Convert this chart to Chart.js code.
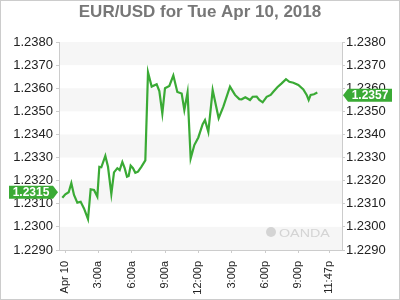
<!DOCTYPE html>
<html>
<head>
<meta charset="utf-8">
<script src="https://cdn.jsdelivr.net/npm/chart.js@4"></script>
<style>
  html, body { margin: 0; padding: 0; background: #fff; }
  canvas { display: block; }
</style>
</head>
<body>
<canvas id="myChart" width="400" height="300"></canvas>
<script>
// hours after midnight Apr 10 (negative = late Apr 9)
var times = [-0.24, 0.03, 0.33, 0.57, 0.81, 1.11, 1.41, 1.71, 2.07, 2.31,
    2.61, 2.91, 3.09, 3.27, 3.63, 3.87, 4.17, 4.41, 4.71, 4.92,
    5.16, 5.37, 5.58, 5.73, 5.91, 6.12, 6.33, 6.57, 6.87, 7.23,
    7.47, 7.80, 8.25, 8.49, 8.76, 9.00, 9.39, 9.75, 10.11, 10.50,
    10.74, 11.03, 11.31, 11.64, 12.00, 12.39, 12.60, 12.90, 13.29, 13.83,
    14.25, 14.85, 15.30, 15.69, 15.90, 16.23, 16.65, 16.89, 17.25, 17.49,
    17.79, 18.15, 18.51, 18.75, 19.11, 19.50, 19.89, 20.19, 20.55, 21.00,
    21.45, 21.75, 21.93, 22.11, 22.41, 22.71]
var rates = [1.23126, 1.23141, 1.23150, 1.23189, 1.23138, 1.23105, 1.23109, 1.23080, 1.23034, 1.23163,
    1.23160, 1.23131, 1.23260, 1.23258, 1.23307, 1.23260, 1.23142, 1.23236, 1.23254, 1.23246,
    1.23281, 1.23254, 1.23217, 1.23220, 1.23265, 1.23254, 1.23234, 1.23239, 1.23260, 1.23288,
    1.23669, 1.23607, 1.23617, 1.23588, 1.23491, 1.23600, 1.23610, 1.23655, 1.23584, 1.23577,
    1.23506, 1.23582, 1.23296, 1.23354, 1.23387, 1.23444, 1.23462, 1.23411, 1.23592, 1.23470,
    1.23520, 1.23607, 1.23571, 1.23553, 1.23552, 1.23561, 1.23549, 1.23563, 1.23564, 1.23549,
    1.23539, 1.23563, 1.23571, 1.23585, 1.23604, 1.23621, 1.23639, 1.23628, 1.23624, 1.23614,
    1.23595, 1.23571, 1.23549, 1.23571, 1.23574, 1.23581]

var yTicks = [1.2290, 1.2300, 1.2310, 1.2320, 1.2330, 1.2340, 1.2350, 1.2360, 1.2370, 1.2380]
var xTickHours = [0, 3, 6, 9, 12, 15, 18, 21, 23.78]
var xTickLabels = ['Apr 10', '3:00a', '6:00a', '9:00a', '12:00p', '3:00p', '6:00p', '9:00p', '11:47p']
var openRate = 1.2315
var lastRate = 1.2357

var green = '#3aaa35'
var font = 'Liberation Sans, Arial, sans-serif'

var points = []
for (let i = 0; i < times.length; i++) {
    points.push({ x: times[i], y: rates[i] })
}

// alternating grey bands behind the line
var bands = {
    id: 'bands',
    beforeDraw(chart) {
        let { ctx, chartArea: a, scales: { y } } = chart
        ctx.save()
        ctx.fillStyle = '#f6f6f6'
        for (let i = 0; i < yTicks.length - 1; i += 2) {
            let top = y.getPixelForValue(yTicks[i + 1])
            let bot = y.getPixelForValue(yTicks[i])
            ctx.fillRect(a.left, top, a.right - a.left, bot - top)
        }
        ctx.restore()
    }
}

var watermark = {
    id: 'watermark',
    beforeDatasetsDraw(chart) {
        let { ctx, chartArea: a } = chart
        ctx.save()
        ctx.fillStyle = '#d4d4d4'
        ctx.beginPath()
        ctx.arc(a.right - 71, a.bottom - 18, 5, 0, Math.PI * 2)
        ctx.fill()
        ctx.translate(a.right - 63, a.bottom - 13)
        ctx.scale(1.3, 1)
        ctx.font = '11px ' + font
        ctx.textBaseline = 'alphabetic'
        ctx.fillText('OANDA', 0, 0)
        ctx.restore()
    }
}

function tag(ctx, value, tipX, y, dir) {
    let w = 44, h = 13, arrow = 5
    ctx.fillStyle = green
    ctx.beginPath()
    if (dir > 0) {
        // box on the left, arrow pointing right
        ctx.moveTo(tipX, y)
        ctx.lineTo(tipX - arrow, y - h / 2)
        ctx.lineTo(tipX - arrow - w, y - h / 2)
        ctx.lineTo(tipX - arrow - w, y + h / 2)
        ctx.lineTo(tipX - arrow, y + h / 2)
    } else {
        ctx.moveTo(tipX, y)
        ctx.lineTo(tipX + arrow, y - h / 2)
        ctx.lineTo(tipX + arrow + w, y - h / 2)
        ctx.lineTo(tipX + arrow + w, y + h / 2)
        ctx.lineTo(tipX + arrow, y + h / 2)
    }
    ctx.closePath()
    ctx.fill()
    ctx.fillStyle = '#fff'
    ctx.font = 'bold 12px ' + font
    ctx.textAlign = 'center'
    ctx.textBaseline = 'middle'
    let cx = dir > 0 ? tipX - arrow - w / 2 : tipX + arrow + w / 2
    ctx.fillText(value.toFixed(4), cx, y + 0.5)
}

var tags = {
    id: 'tags',
    afterDraw(chart) {
        let { ctx, chartArea: a, scales: { y } } = chart
        ctx.save()
        tag(ctx, openRate, a.left - 1, y.getPixelForValue(openRate), 1)
        tag(ctx, lastRate, a.right + 1, y.getPixelForValue(lastRate), -1)
        ctx.strokeStyle = '#cccccc'
        ctx.lineWidth = 1
        ctx.strokeRect(0.5, 0.5, chart.width - 1, chart.height - 1)
        ctx.restore()
    }
}

function yAxis(pos, width, pad) {
    return {
        type: 'linear',
        position: pos,
        min: yTicks[0],
        max: yTicks[yTicks.length - 1],
        afterBuildTicks: (s) => { s.ticks = yTicks.map(v => ({ value: v })) },
        afterFit: (s) => { s.width = width },
        grid: { drawOnChartArea: false, color: '#cccccc', tickLength: 3 },
        border: { color: '#cccccc' },
        ticks: {
            color: '#222',
            padding: pad,
            font: { family: font, size: 13 },
            callback: (v) => Number(v).toFixed(4)
        }
    }
}

const ctx = document.getElementById('myChart')
new Chart(ctx, {
    type: 'line',
    data: {
        datasets: [{
            data: points,
            borderColor: green,
            borderWidth: 2.2,
            pointRadius: 0,
            tension: 0,
            fill: false
        }]
    },
    options: {
        responsive: false,
        animation: false,
        layout: { padding: 0 },
        plugins: {
            legend: { display: false },
            tooltip: { enabled: false },
            title: {
                display: true,
                text: 'EUR/USD for Tue Apr 10, 2018',
                color: '#777',
                font: { family: font, size: 17, weight: 'bold' },
                padding: { top: 2, bottom: 19.6 }
            }
        },
        scales: {
            x: {
                type: 'linear',
                min: -0.54,
                max: 24.93,
                afterBuildTicks: (s) => { s.ticks = xTickHours.map(v => ({ value: v })) },
                afterFit: (s) => { s.height = 50 },
                grid: { drawOnChartArea: false, color: '#cccccc', tickLength: 3 },
                border: { color: '#cccccc' },
                ticks: {
                    color: '#222',
                    autoSkip: false,
                    minRotation: 90,
                    maxRotation: 90,
                    padding: 8,
                    font: { family: font, size: 11 },
                    callback: (v, i) => xTickLabels[i]
                }
            },
            y: yAxis('left', 59, 3),
            y2: yAxis('right', 58, 1)
        }
    },
    plugins: [bands, watermark, tags]
})
</script>
</body>
</html>
